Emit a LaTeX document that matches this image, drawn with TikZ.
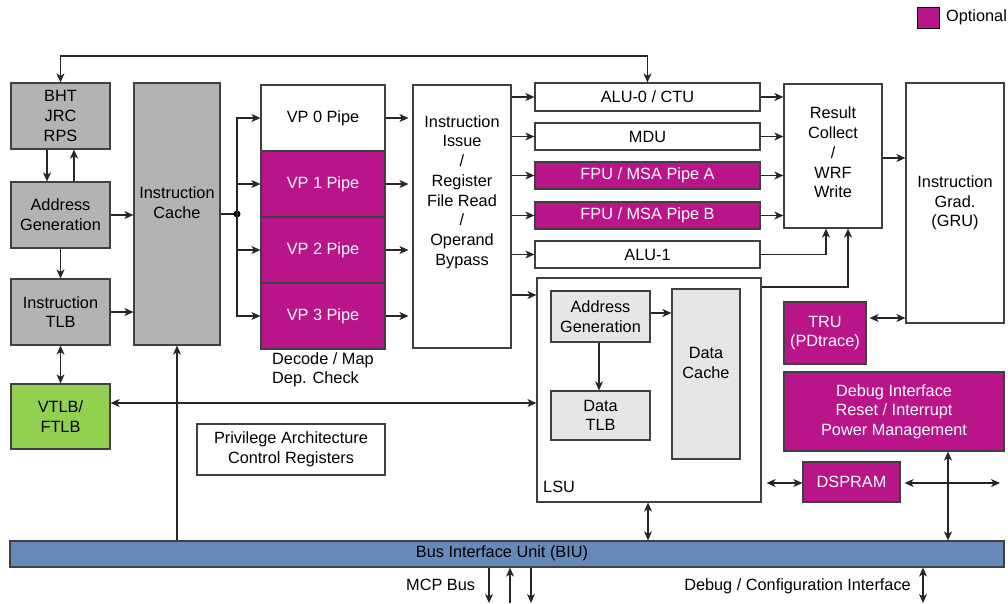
\documentclass[tikz,border=0pt]{standalone}
\usepackage{fontspec}
\setmainfont{Liberation Sans}
\usetikzlibrary{arrows.meta,calc}
\definecolor{optpurple}{RGB}{185,20,138}
\definecolor{boxgray}{RGB}{179,179,179}
\definecolor{lightgray2}{RGB}{230,230,230}
\definecolor{biublue}{RGB}{102,137,185}
\definecolor{tlbgreen}{RGB}{146,208,80}
\definecolor{edgegray}{RGB}{64,64,64}
\tikzset{
  blk/.style={draw=edgegray,line width=1.2pt,inner sep=0pt,align=center,
    font=\fontsize{16.3}{19.7}\selectfont},
  graybox/.style={blk,fill=boxgray},
  whitebox/.style={blk,fill=white},
  optbox/.style={blk,fill=optpurple,text=white},
  litebox/.style={blk,fill=lightgray2},
  txt/.style={inner sep=0pt,align=center,font=\fontsize{16.3}{19.7}\selectfont},
  conn/.style={line width=1.1pt,draw=black!85},
  arr/.style={conn,-{Stealth[length=9pt,width=8pt,inset=2.5pt]}},
  darr/.style={conn,{Stealth[length=9pt,width=8pt,inset=2.5pt]}-{Stealth[length=9pt,width=8pt,inset=2.5pt]}},
}
\begin{document}
\begin{tikzpicture}[x=1pt,y=-1pt]
\useasboundingbox (0,0) rectangle (1008,603);
% legend
\node[draw=black,line width=1pt,fill=optpurple,minimum width=22pt,minimum height=21pt,inner sep=0pt] (legbox) at (928,17.5) {};
\node[txt,anchor=west] (legtxt) at (946,17.5) {Optional};
% left column
\node[graybox,minimum width=99pt,minimum height=66pt] (bht) at (60.5,116) {BHT\\JRC\\RPS};
\node[graybox,minimum width=99pt,minimum height=66pt] (ag) at (60.5,215) {Address\\Generation};
\node[graybox,minimum width=99pt,minimum height=66pt] (itlb) at (60.5,312) {Instruction\\TLB};
\node[blk,fill=tlbgreen,minimum width=99pt,minimum height=65pt] (vtlb) at (60.5,416.5) {VTLB/\\FTLB};
\node[graybox,minimum width=86pt,minimum height=262pt] (icache) at (177,214) {};
\node[txt] (icachet) at (177,203) {Instruction\\Cache};
% VP pipes
\node[whitebox,minimum width=124pt,minimum height=66pt] (vp0) at (323,118) {VP 0 Pipe};
\node[optbox,minimum width=124pt,minimum height=66pt] (vp1) at (323,184) {VP 1 Pipe};
\node[optbox,minimum width=124pt,minimum height=66pt] (vp2) at (323,250) {VP 2 Pipe};
\node[optbox,minimum width=124pt,minimum height=66pt] (vp3) at (323,316) {VP 3 Pipe};
\node[txt,anchor=north west,align=left] (decode) at (272,352) {Decode / Map\\Dep. Check};
% issue
\node[whitebox,minimum width=98pt,minimum height=263pt] (issue) at (462,216.5) {};
\node[txt] (issuet) at (462,192) {Instruction\\Issue\\/\\Register\\File Read\\/\\Operand\\Bypass};
% units
\node[whitebox,minimum width=225pt,minimum height=28pt] (alu0) at (647.5,97) {ALU-0 / CTU};
\node[whitebox,minimum width=225pt,minimum height=27pt] (mdu) at (647.5,136.5) {MDU};
\node[optbox,minimum width=225pt,minimum height=27pt] (fpua) at (647.5,175.5) {FPU / MSA Pipe A};
\node[optbox,minimum width=225pt,minimum height=27pt] (fpub) at (647.5,215.5) {FPU / MSA Pipe B};
\node[whitebox,minimum width=225pt,minimum height=27pt] (alu1) at (647.5,254.5) {ALU-1};
% LSU
\node[whitebox,minimum width=224pt,minimum height=224pt] (lsu) at (649,390) {};
\node[txt,anchor=west] (lsut) at (543,487) {LSU};
\node[litebox,minimum width=99pt,minimum height=51pt] (dag) at (600.5,316.5) {Address\\Generation};
\node[litebox,minimum width=68pt,minimum height=170pt] (dc) at (706,374) {};
\node[txt] (dct) at (706,363) {Data\\Cache};
\node[litebox,minimum width=99pt,minimum height=49pt] (dtlb) at (600.5,415.5) {Data\\TLB};
% right side
\node[whitebox,minimum width=98pt,minimum height=144pt] (result) at (833,156) {};
\node[txt] (resultt) at (833,152.5) {Result\\Collect\\/\\WRF\\Write};
\node[whitebox,minimum width=98pt,minimum height=240pt] (gru) at (955,203) {Instruction\\Grad.\\(GRU)};
\node[optbox,minimum width=82pt,minimum height=62pt] (tru) at (825,333) {TRU\\(PDtrace)};
\node[optbox,minimum width=220pt,minimum height=79pt] (debug) at (894,411.5) {Debug Interface\\Reset / Interrupt\\Power Management};
\node[optbox,minimum width=97pt,minimum height=40pt] (dspram) at (851.5,482) {DSPRAM};
\node[whitebox,minimum width=188pt,minimum height=51pt] (priv) at (291,449.5) {Privilege Architecture\\Control Registers};
% BIU
\node[blk,fill=biublue,minimum width=994pt,minimum height=26pt] (biu) at (507,554) {};
\node[txt] (biut) at (502,553) {Bus Interface Unit (BIU)};
\node[txt,anchor=west] (mcpt) at (406,585) {MCP Bus};
\node[txt,anchor=east] (dbgt) at (911,586) {Debug / Configuration Interface};
% coordinates
\coordinate (dot) at (237,214);
\coordinate (mcp1) at (489,603);
\coordinate (mcp2) at (510,603);
\coordinate (mcp3) at (531,603);
\coordinate (dbgend) at (923,603);
\coordinate (dsend) at (1000,483);
% connectors
\draw[darr] (bht.north) -- (bht.north |- 0,56) -| (alu0.north);
\draw[arr] (bht.south -| 47,0) -- (ag.north -| 47,0);
\draw[arr] (ag.north -| 74,0) -- (bht.south -| 74,0);
\draw[arr] (ag.south) -- (itlb.north);
\draw[arr] (ag.east) -- (ag.east -| icache.west);
\draw[arr] (itlb.east) -- (itlb.east -| icache.west);
\draw[darr] (itlb.south) -- (vtlb.north);
\draw[arr] (biu.north -| icache.south) -- (icache.south);
\draw[conn] (icache.east |- dot) -- (dot);
\fill[black] (dot) circle (3.5pt);
\draw[arr] (dot) |- (vp0.west);
\draw[arr] (dot) |- (vp1.west);
\draw[arr] (dot) |- (vp2.west);
\draw[arr] (dot) |- (vp3.west);
\foreach \v in {vp0,vp1,vp2,vp3}
  \draw[arr,shorten >=4pt] (\v.east) -- (\v.east -| issue.west);
\foreach \u in {alu0,mdu,fpua,fpub,alu1}
  \draw[arr] (\u.west -| issue.east) -- (\u.west);
\draw[arr] (issue.east |- 0,295) -- (lsu.west |- 0,295);
\foreach \u in {alu0,mdu,fpua,fpub}
  \draw[arr] (\u.east) -- (\u.east -| result.west);
\draw[arr] (alu1.east) -| (result.south -| 826,0);
\draw[arr] (lsu.east |- 0,287) -| (result.south -| 848,0);
\draw[arr] (result.east |- 0,158) -- (gru.west |- 0,158);
\draw[darr,shorten <=3pt] (tru.east |- 0,318) -- (gru.west |- 0,318);
\draw[darr] (vtlb.east |- 0,403) -- (lsu.west |- 0,403);
\draw[arr] (dag.east |- 0,313) -- (dc.west |- 0,313);
\draw[arr] (dag.south -| 599,0) -- (dtlb.north -| 599,0);
\draw[darr,shorten <=5pt] (lsu.east |- 0,483) -- (dspram.west |- 0,483);
\draw[darr,shorten <=4pt] (dspram.east |- dsend) -- (dsend);
\draw[darr] (debug.south -| 948,0) -- (biu.north -| 948,0);
\draw[darr] (lsu.south -| 648,0) -- (biu.north -| 648,0);
\draw[arr] (biu.south -| mcp1) -- (mcp1);
\draw[arr] (mcp2) -- (biu.south -| mcp2);
\draw[arr] (biu.south -| mcp3) -- (mcp3);
\draw[darr] (biu.south -| dbgend) -- (dbgend);
\end{tikzpicture}
\end{document}
